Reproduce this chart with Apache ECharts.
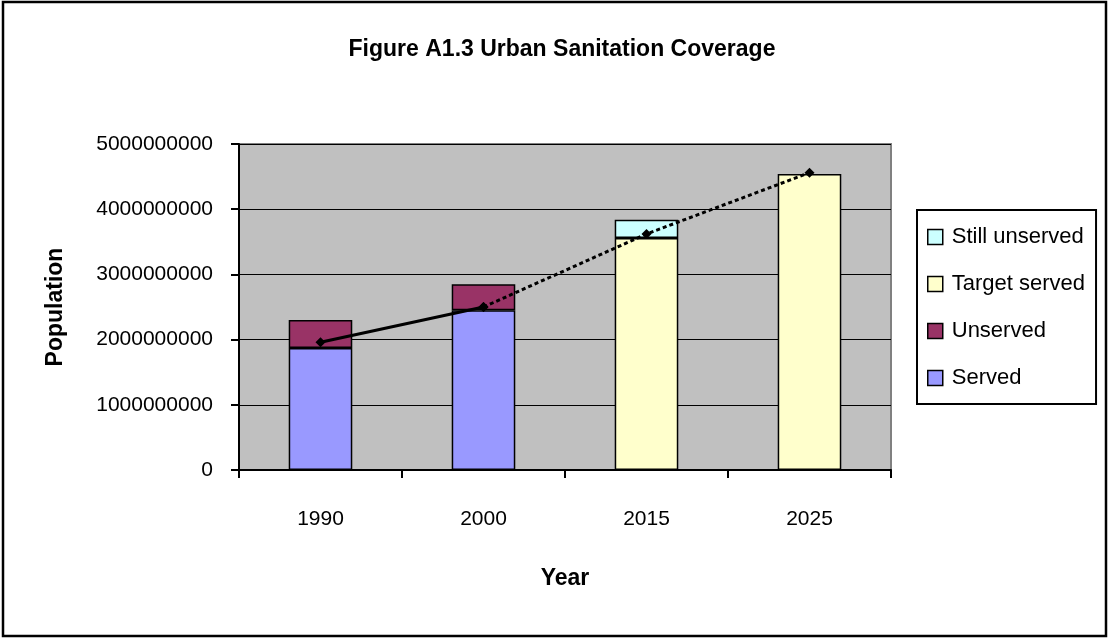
<!DOCTYPE html>
<html>
<head>
<meta charset="utf-8">
<script src="https://cdn.jsdelivr.net/npm/echarts@6/dist/echarts.min.js"></script>
<style>
  html, body { margin: 0; padding: 0; background: #fff; }
  #chart { width: 1110px; height: 639px; }
</style>
</head>
<body>
<div id="chart"></div>
<script>
// Urban sanitation coverage, population by year
const years = ['1990', '2000', '2015', '2025'];
const served = [1870000000, 2450000000, '-', '-'];
const unserved = [430000000, 400000000, '-', '-'];
const targetServed = ['-', '-', 3560000000, 4540000000];
const stillUnserved = ['-', '-', 280000000, '-'];
// population trend: recorded segment and projected segment
const trendActual = [1960000000, 2500000000, '-', '-'];
const trendProjected = ['-', 2500000000, 3620000000, 4560000000];
const yTicks = [0, 1000000000, 2000000000, 3000000000, 4000000000, 5000000000];

const FONT = "'Liberation Sans Narrow', 'Arial Narrow', 'Liberation Sans', sans-serif";
const barBorder = { borderColor: '#000', borderWidth: 1.5 };

function barSeries(name, data, color) {
  return {
    name: name,
    type: 'bar',
    stack: 'pop',
    barWidth: '39%',
    data: data,
    itemStyle: Object.assign({ color: color }, barBorder),
    emphasis: { disabled: true }
  };
}

const chart = echarts.init(document.getElementById('chart'));
chart.setOption({
  animation: false,
  backgroundColor: '#fff',
  textStyle: { fontFamily: FONT },
  title: {
    text: 'Figure A1.3 Urban Sanitation Coverage',
    left: 557,
    textAlign: 'center',
    top: 33,
    textStyle: { fontFamily: FONT, fontWeight: 'bold', fontSize: 23, color: '#000' }
  },
  graphic: [{
    type: 'rect',
    shape: { x: 3, y: 2, width: 1103, height: 634 },
    style: { fill: null, stroke: '#000', lineWidth: 2.5 },
    silent: true
  }],
  grid: {
    left: 239, top: 144, right: 219, bottom: 169,
    show: true,
    backgroundColor: '#C0C0C0',
    borderColor: '#808080',
    borderWidth: 2
  },
  legend: {
    orient: 'vertical',
    left: 917,
    top: 210,
    padding: [15, 11, 14, 10],
    itemGap: 23,
    itemWidth: 15,
    itemHeight: 15,
    icon: 'rect',
    borderColor: '#000',
    borderWidth: 2,
    textStyle: { fontFamily: FONT, fontSize: 22, color: '#000', lineHeight: 24, padding: [0, 0, 0, 4] },
    itemStyle: { borderColor: '#000', borderWidth: 1.5 },
    data: ['Still unserved', 'Target served', 'Unserved', 'Served']
  },
  xAxis: {
    type: 'category',
    data: years,
    name: 'Year',
    nameLocation: 'middle',
    nameGap: 97,
    nameTextStyle: { fontFamily: FONT, fontWeight: 'bold', fontSize: 23, color: '#000' },
    axisLine: { lineStyle: { color: '#000', width: 2 } },
    axisTick: { show: true, alignWithLabel: false, length: 8, lineStyle: { color: '#000', width: 2 } },
    axisLabel: { fontFamily: FONT, fontSize: 21, color: '#000', margin: 39 }
  },
  yAxis: {
    type: 'value',
    min: yTicks[0],
    max: yTicks[yTicks.length - 1],
    interval: yTicks[1] - yTicks[0],
    name: 'Population',
    nameLocation: 'middle',
    nameGap: 172,
    nameRotate: 90,
    nameTextStyle: { fontFamily: FONT, fontWeight: 'bold', fontSize: 23, color: '#000' },
    axisLine: { show: true, lineStyle: { color: '#000', width: 2 } },
    axisTick: { show: true, length: 8, lineStyle: { color: '#000', width: 2 } },
    axisLabel: { fontFamily: FONT, fontSize: 21, color: '#000', margin: 26, formatter: v => String(v) },
    splitLine: { show: true, lineStyle: { color: '#000', width: 1 } }
  },
  series: [
    barSeries('Served', served, '#9999FF'),
    barSeries('Unserved', unserved, '#993366'),
    barSeries('Target served', targetServed, '#FFFFCC'),
    barSeries('Still unserved', stillUnserved, '#CCFFFF'),
    {
      name: 'Trend',
      type: 'line',
      data: trendActual,
      symbol: 'diamond',
      symbolSize: 10,
      itemStyle: { color: '#000' },
      lineStyle: { color: '#000', width: 3 },
      z: 5
    },
    {
      name: 'Projection',
      type: 'line',
      data: trendProjected,
      symbol: 'diamond',
      symbolSize: 10,
      itemStyle: { color: '#000' },
      lineStyle: { color: '#000', width: 3, type: [4, 3] },
      z: 5
    }
  ]
});
</script>
</body>
</html>
